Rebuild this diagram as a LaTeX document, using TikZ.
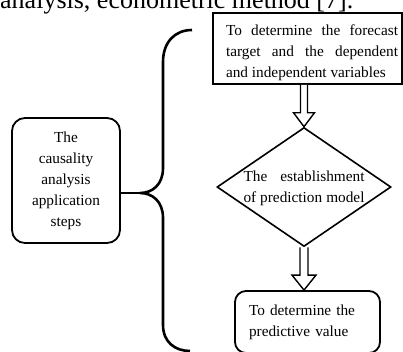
\documentclass[tikz,border=0pt]{standalone}
\usepackage{fontspec}
\setmainfont{Liberation Serif}
\usetikzlibrary{arrows.meta, positioning, calc, shapes.geometric}

\begin{document}
\begin{tikzpicture}[
  x=1pt, y=-1pt,
  box/.style={draw, line width=1.8pt, inner sep=0pt, font=\fontsize{15.3pt}{21pt}\selectfont},
  roundbox/.style={box, rounded corners=11pt},
  decision/.style={draw, diamond, line width=1.6pt, inner sep=0pt,
    minimum width=174pt, minimum height=119pt},
  txt/.style={font=\fontsize{15.3pt}{21pt}\selectfont, align=left, inner sep=0pt},
  hollow/.style={draw, line width=1.4pt, fill=white},
  brace/.style={draw, line width=2.6pt}
]
\useasboundingbox (0,0) rectangle (403,351);

% line of the page text, cut by the frame
\node[anchor=base west, inner sep=0pt, font=\fontsize{26}{30}\selectfont] (cite) at (0,8) {analysis, econometric method [7].};

\node[box, minimum width=189pt, minimum height=71pt,
  label={[txt, xshift=4.5pt, yshift=-4pt]center:{\makebox[172pt][s]{To determine the forecast}\\
    \makebox[172pt][s]{target and the dependent}\\and independent variables}}] (goal) at (307.5,48.5) {};
\node[decision, label={[txt, yshift=-1pt]center:{\makebox[121pt][s]{The establishment}\\
    \makebox[121pt][s]{of prediction model}}}] (model) at (304,187) {};
\node[roundbox, minimum width=145pt, minimum height=62pt, text width=117pt, align=left] (value) at (307.5,322)
  {\makebox[117pt][s]{To determine the}\\predictive value};
\node[roundbox, rounded corners=13pt, minimum width=108pt, minimum height=125pt, align=center] (steps) at (66,180.5)
  {The\\causality\\analysis\\application\\steps};

% brace
\coordinate (tip) at (140,193);
\draw[brace] (192,30) .. controls (175,30) and (163,42) .. (163,62) -- (163,168)
  .. controls (163,185) and (152,193) .. (tip)
  .. controls (152,193) and (163,201) .. (163,218) -- (163,325)
  .. controls (163,342) and (175,351) .. (190,351);
\draw[brace] (steps.east |- tip) -- (tip);

% hollow arrows
\draw[hollow] ($(model.north |- goal.south)+(-3.5,0)$) -- ($(model.north)+(-3.5,-14)$) -- ($(model.north)+(-10.5,-14)$)
  -- (model.north) -- ($(model.north)+(10.5,-14)$) -- ($(model.north)+(3.5,-14)$) -- ($(model.north |- goal.south)+(3.5,0)$);
\draw[hollow] ($(model.south)+(-4,0)$) -- ($(model.south |- value.north)+(-4,-15)$) -- ($(model.south |- value.north)+(-12,-15)$)
  -- (model.south |- value.north) -- ($(model.south |- value.north)+(12,-15)$) -- ($(model.south |- value.north)+(4,-15)$) -- ($(model.south)+(4,0)$);
\end{tikzpicture}
\end{document}
